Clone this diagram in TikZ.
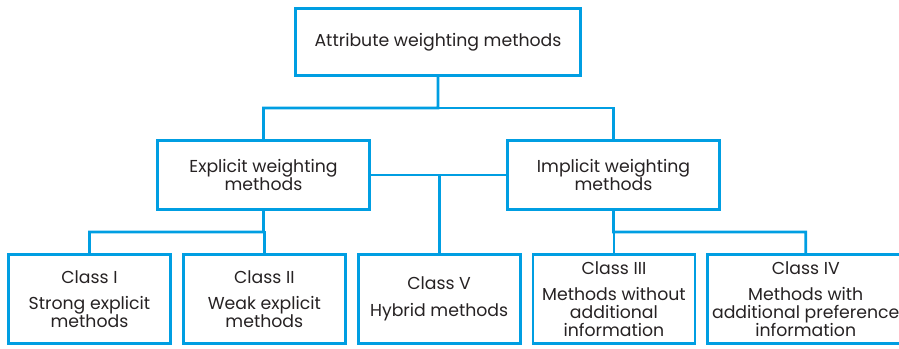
\documentclass[tikz,border=0pt]{standalone}
\usepackage{fontspec}
\setmainfont{Poppins}
\usepackage{tikz}
\usetikzlibrary{positioning,calc}
\definecolor{treeblue}{RGB}{0,158,226}
\definecolor{inkgrey}{RGB}{38,34,35}

\begin{document}
\begin{tikzpicture}[
  font=\fontsize{12.3}{12.8}\selectfont,
  node distance=3mm and 2.5mm,
  wbox/.style={draw=treeblue, line width=2pt, fill=white, text=inkgrey,
               align=center, inner sep=2pt},
  classbox/.style={wbox, minimum width=4.05cm, minimum height=2.225cm},
  link/.style={draw=treeblue, line width=2pt},
]
\useasboundingbox (0,0) rectangle (22.475,-8.725);

%====================== LEVELS 1 AND 2 ======================
\node[wbox, minimum width=7.125cm, minimum height=1.675cm] (root) at (10.95,-1.05) {Attribute weighting methods};
\node[wbox, minimum width=5.3cm, minimum height=1.725cm] (expl) at (6.5875,-4.375) {Explicit weighting\\ methods};
\node[wbox, minimum width=5.3cm, minimum height=1.725cm, right=3.38cm of expl] (impl) {Implicit weighting\\ methods};

%====================== CLASSES ======================
\node[classbox] (cI) at (2.2375,-7.475) {Class I\\[6pt] Strong explicit\\ methods};
\node[classbox, right=of cI] (cII) {Class II\\[6pt] Weak explicit\\ methods};
\node[classbox, right=of cII] (cV) {Class V\\[6pt] Hybrid methods};
\node[classbox, right=of cV] (cIII) {Class III\\[6pt] Methods without\\ additional\\ information};
\node[classbox, minimum width=4.9cm, right=of cIII] (cIV) {Class IV\\[6pt] Methods with\\ additional preference\\ information};

%====================== CONNECTORS ======================
\coordinate (rootbus) at ($(root.south)!0.5!(root.south |- expl.north)$);
\coordinate (explbus) at ($(expl.south)!0.5!(expl.south |- cII.north)$);
\coordinate (implbus) at ($(impl.south)!0.5!(impl.south |- cIII.north)$);
\draw[link] (root.south) -- (rootbus) -| (expl.north);
\draw[link] (rootbus) -| (impl.north);
\draw[link] (expl.east) -- (impl.west);
\draw[link] (cV.north) -- (cV.north |- expl.east);
\draw[link] (expl.south) -- (explbus) -| (cI.north);
\draw[link] (explbus) -- (explbus -| cII.north) -- (cII.north);
\draw[link] (impl.south) -- (implbus) -| (cIV.north);
\draw[link] (implbus) -- (implbus -| cIII.north) -- (cIII.north);
\end{tikzpicture}
\end{document}
